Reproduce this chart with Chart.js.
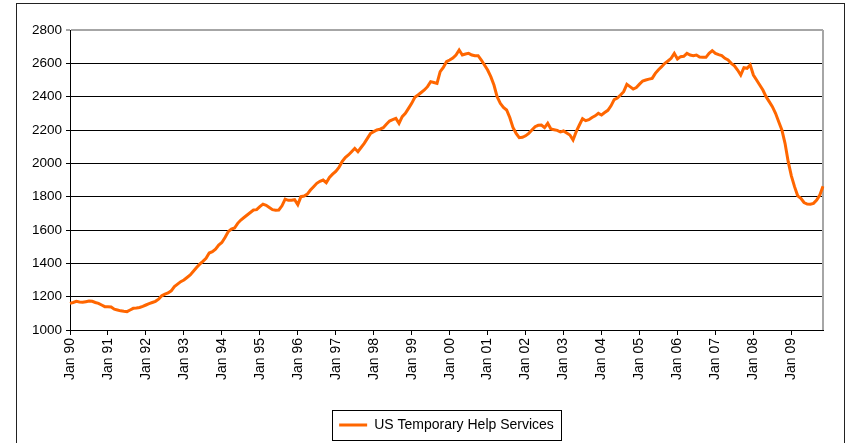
<!DOCTYPE html>
<html>
<head>
<meta charset="utf-8">
<script src="https://cdn.jsdelivr.net/npm/chart.js@4.4.0/dist/chart.umd.min.js"></script>
<style>
  html, body { margin: 0; padding: 0; background: #fff; }
  canvas { display: block; }
</style>
</head>
<body>
<canvas id="grafico" width="850" height="443"></canvas>
<script>
// US Temporary Help Services, monthly (thousands), Jan 1990 - Nov 2009
var meses = ['Jan', 'Feb', 'Mar', 'Apr', 'May', 'Jun', 'Jul', 'Aug', 'Sep', 'Oct', 'Nov', 'Dec'];
var anos = ['90', '91', '92', '93', '94', '95', '96', '97', '98', '99',
            '00', '01', '02', '03', '04', '05', '06', '07', '08', '09'];

var v1990 = [1160, 1165, 1172, 1168, 1166, 1170, 1174, 1172, 1165, 1160, 1150, 1140];
var v1991 = [1140, 1138, 1125, 1120, 1115, 1112, 1110, 1120, 1130, 1132, 1135, 1142];
var v1992 = [1150, 1158, 1165, 1172, 1185, 1205, 1215, 1222, 1235, 1260, 1275, 1290];
var v1993 = [1300, 1315, 1330, 1352, 1375, 1395, 1412, 1430, 1462, 1470, 1485, 1510];
var v1994 = [1525, 1555, 1590, 1605, 1612, 1640, 1660, 1675, 1690, 1705, 1720, 1722];
var v1995 = [1740, 1755, 1748, 1735, 1722, 1718, 1720, 1745, 1785, 1778, 1778, 1782];
var v1996 = [1752, 1800, 1804, 1815, 1840, 1860, 1880, 1892, 1900, 1884, 1915, 1935];
var v1997 = [1952, 1975, 2010, 2035, 2050, 2070, 2090, 2070, 2095, 2120, 2150, 2180];
var v1998 = [2190, 2200, 2205, 2214, 2235, 2254, 2262, 2270, 2240, 2280, 2300, 2330];
var v1999 = [2360, 2396, 2410, 2425, 2440, 2460, 2490, 2485, 2480, 2550, 2575, 2610];
var v2000 = [2620, 2632, 2650, 2680, 2650, 2656, 2660, 2650, 2646, 2646, 2620, 2590];
var v2001 = [2560, 2520, 2470, 2400, 2360, 2335, 2320, 2275, 2215, 2180, 2154, 2156];
var v2002 = [2165, 2180, 2200, 2220, 2228, 2230, 2214, 2240, 2206, 2202, 2198, 2188];
var v2003 = [2194, 2182, 2170, 2140, 2190, 2230, 2268, 2256, 2262, 2275, 2285, 2300];
var v2004 = [2290, 2305, 2318, 2345, 2382, 2392, 2410, 2430, 2474, 2460, 2446, 2455];
var v2005 = [2475, 2494, 2500, 2505, 2510, 2540, 2562, 2580, 2600, 2614, 2630, 2660];
var v2006 = [2626, 2640, 2642, 2660, 2650, 2646, 2650, 2638, 2636, 2636, 2660, 2676];
var v2007 = [2660, 2652, 2646, 2630, 2620, 2600, 2585, 2560, 2530, 2574, 2570, 2590];
var v2008 = [2530, 2500, 2470, 2440, 2400, 2370, 2340, 2300, 2250, 2200, 2120, 2010];
var v2009 = [1925, 1860, 1805, 1790, 1765, 1756, 1755, 1760, 1780, 1810, 1862];

var valores = [].concat(v1990, v1991, v1992, v1993, v1994, v1995, v1996, v1997, v1998, v1999,
                        v2000, v2001, v2002, v2003, v2004, v2005, v2006, v2007, v2008, v2009);

var rotulos = [];
anos.forEach(function(a) {
    meses.forEach(function(m) { rotulos.push(m + ' ' + a); });
});
rotulos = rotulos.slice(0, valores.length);

var fonte = "'Liberation Sans', Arial, sans-serif";
var laranja = '#FF6600';

// moldura externa, borda cinza do plot e caixa da legenda
var molduras = {
    id: 'molduras',
    beforeDatasetsDraw: function(chart) {
        var ctx = chart.ctx, a = chart.chartArea;
        ctx.save();
        ctx.strokeStyle = '#a6a6a6';
        ctx.lineWidth = 2;
        ctx.beginPath();
        ctx.moveTo(a.right, a.top);
        ctx.lineTo(a.right, a.bottom);
        ctx.stroke();
        ctx.restore();
    },
    afterDraw: function(chart) {
        var ctx = chart.ctx;
        ctx.save();
        ctx.strokeStyle = '#222';
        ctx.lineWidth = 1;
        ctx.strokeRect(16.5, 3.5, 828, 500);
        var hb = chart.legend.legendHitBoxes[0];
        if (hb) {
            var cy = hb.top + hb.height / 2;
            ctx.strokeStyle = '#000';
            ctx.strokeRect(Math.round(hb.left - 7) + 0.5, Math.round(cy - 15) + 0.5,
                           Math.round(hb.width + 14), 30);
        }
        ctx.restore();
    }
};

var config = {
    type: 'line',
    data: {
        labels: rotulos,
        datasets: [{
            label: 'US Temporary Help Services',
            data: valores,
            borderColor: laranja,
            backgroundColor: laranja,
            borderWidth: 3,
            pointRadius: 0,
            tension: 0,
            fill: false
        }]
    },
    options: {
        responsive: false,
        animation: false,
        layout: { padding: { left: 0, top: 30, right: 27, bottom: 1 } },
        plugins: {
            tooltip: { enabled: false },
            legend: {
                position: 'bottom',
                fullSize: false,
                labels: {
                    color: '#000',
                    font: { family: fonte, size: 14 },
                    boxWidth: 28,
                    boxHeight: 3,
                    padding: 10,
                    generateLabels: function(chart) {
                        return Chart.defaults.plugins.legend.labels.generateLabels(chart).map(function(l) {
                            l.lineWidth = 0;
                            l.fillStyle = laranja;
                            return l;
                        });
                    }
                }
            }
        },
        scales: {
            x: {
                ticks: {
                    autoSkip: false,
                    minRotation: 90,
                    maxRotation: 90,
                    padding: 3,
                    color: '#000',
                    font: { family: fonte, size: 14 },
                    callback: function(val, i) {
                        var r = this.getLabelForValue(val);
                        return r.indexOf('Jan') === 0 ? r : '';
                    }
                },
                grid: {
                    drawOnChartArea: false,
                    tickLength: 5,
                    color: function(c) { return c.index % 12 === 0 ? '#000' : 'rgba(0,0,0,0)'; }
                },
                border: { color: '#000', width: 1 },
                afterFit: function(s) { s.height = 78; }
            },
            y: {
                min: 1000,
                max: 2800,
                ticks: {
                    stepSize: 200,
                    padding: 4,
                    color: '#000',
                    font: { family: fonte, size: 13.5 },
                    callback: function(v) { return String(v); }
                },
                grid: {
                    tickLength: 4,
                    color: function(c) { return c.tick && c.tick.value === 2800 ? '#a6a6a6' : '#000'; },
                    lineWidth: function(c) { return c.tick && c.tick.value === 2800 ? 2 : 1; }
                },
                border: { color: '#000', width: 1 },
                afterFit: function(s) { s.width = 70; }
            }
        }
    },
    plugins: [molduras]
};

new Chart(document.getElementById('grafico').getContext('2d'), config);
</script>
</body>
</html>
